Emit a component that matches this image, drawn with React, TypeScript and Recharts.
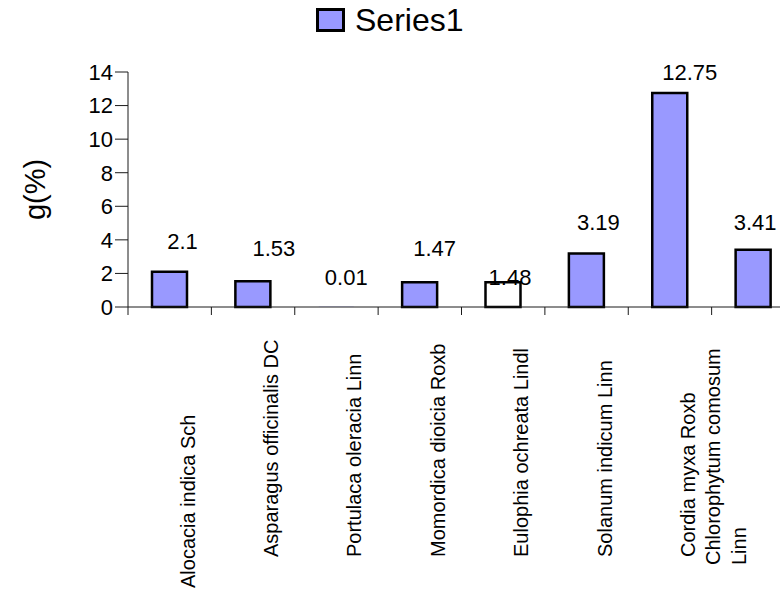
import { BarChart, Bar, XAxis, YAxis, Legend, Cell, LabelList } from "recharts";

const species = [
  "Alocacia indica Sch",
  "Asparagus officinalis DC",
  "Portulaca oleracia Linn",
  "Momordica dioicia Roxb",
  "Eulophia ochreata Lindl",
  "Solanum indicum Linn",
  "Cordia myxa Roxb",
  "Chlorophytum comosum Linn",
];

// axis text as printed: the last two names end up in one wrapped label
const tickLines = [
  ["Alocacia indica Sch"],
  ["Asparagus officinalis DC"],
  ["Portulaca oleracia Linn"],
  ["Momordica dioicia Roxb"],
  ["Eulophia ochreata Lindl"],
  ["Solanum indicum Linn"],
  ["Cordia myxa Roxb", "Chlorophytum comosum", "Linn"],
  [],
];

const gValues = [2.1, 1.53, 0.01, 1.47, 1.48, 3.19, 12.75, 3.41];
const yTicks = [0, 2, 4, 6, 8, 10, 12, 14];
const seriesName = "Series1";

const data = species.map((name, i) => ({ name, g: gValues[i] }));

const FONT = "'Liberation Sans', Arial, sans-serif";
const BAR_FILL = "#9999ff";
const AXIS = "#1a1a1a";

// hand-placed data labels in the original (dx, dy from bar top centre)
const labelNudge = [
  [13, -31],
  [21, -33],
  [10, -30],
  [15, -34],
  [7, -5],
  [12, -31],
  [20, -21],
  [2, -28],
];

function ValueLabel(props: any) {
  const { x, y, width, value, index } = props;
  const [dx, dy] = labelNudge[index] || [0, -30];
  return (
    <text
      x={x + width / 2 + dx}
      y={y + dy}
      dy="0.36em"
      textAnchor="middle"
      fontSize={22}
      fontFamily={FONT}
      fill="#000"
    >
      {value}
    </text>
  );
}

function CategoryTick(props: any) {
  const { x, y, payload, index } = props;
  const half = payload?.offset ?? 41.7;
  const lines = tickLines[index] || [];
  const drop = index === 0 ? 31 : 0;
  return (
    <g>
      <line x1={x - half} y1={y} x2={x - half} y2={y + 8} stroke={AXIS} />
      {index === tickLines.length - 1 && (
        <line x1={x + half} y1={y} x2={x + half} y2={y + 8} stroke={AXIS} />
      )}
      {lines.map((t, i) => (
        <text
          key={i}
          transform={`translate(${x + 18 + i * 25.5},${y + 250 + drop + (i > 0 ? 8 : 0)}) rotate(-90)`}
          textAnchor="start"
          dominantBaseline="central"
          fontSize={20}
          fontFamily={FONT}
          fill="#000"
        >
          {t}
        </text>
      ))}
    </g>
  );
}

function LegendBox() {
  return (
    <div style={{ display: "flex", alignItems: "center", fontFamily: FONT }}>
      <span
        style={{
          display: "inline-block",
          width: 23,
          height: 18,
          background: BAR_FILL,
          border: "3px solid #000",
        }}
      />
      <span style={{ fontSize: 32, marginLeft: 10, lineHeight: "36px", color: "#000" }}>
        {seriesName}
      </span>
    </div>
  );
}

export default function App() {
  return (
    <div
      style={{
        position: "absolute",
        left: 0,
        top: 0,
        width: 780,
        height: 594,
        overflow: "hidden",
        background: "#fff",
      }}
    >
      <BarChart
        width={795}
        height={594}
        data={data}
        margin={{ top: 72, right: 0, bottom: 7, left: 0 }}
        barSize={35}
      >
        <Legend
          verticalAlign="middle"
          align="center"
          wrapperStyle={{ top: 2, left: 316, width: 220 }}
          content={() => <LegendBox />}
        />
        <YAxis
          width={128}
          domain={[0, 14]}
          ticks={yTicks}
          interval={0}
          tickSize={13}
          tickMargin={2}
          stroke={AXIS}
          tick={{ fontSize: 22, fill: "#000", fontFamily: FONT }}
          label={({ viewBox }: any) => (
            <text
              transform={`translate(${viewBox.x + 35},${viewBox.y + viewBox.height / 2}) rotate(-90)`}
              textAnchor="middle"
              dominantBaseline="central"
              fontSize={29}
              fontFamily={FONT}
              fill="#000"
            >
              g(%)
            </text>
          )}
        />
        <XAxis
          dataKey="name"
          height={280}
          interval={0}
          tickSize={0}
          tickMargin={0}
          tickLine={false}
          stroke={AXIS}
          tick={<CategoryTick />}
        />
        <Bar
          dataKey="g"
          name={seriesName}
          stroke="#000"
          strokeWidth={2.5}
          isAnimationActive={false}
        >
          {data.map((d, i) => (
            <Cell
              key={d.name}
              fill={i === 4 ? "#ffffff" : BAR_FILL}
              stroke={d.g < 0.1 ? "none" : "#000"}
            />
          ))}
          <LabelList dataKey="g" content={<ValueLabel />} />
        </Bar>
      </BarChart>
    </div>
  );
}
